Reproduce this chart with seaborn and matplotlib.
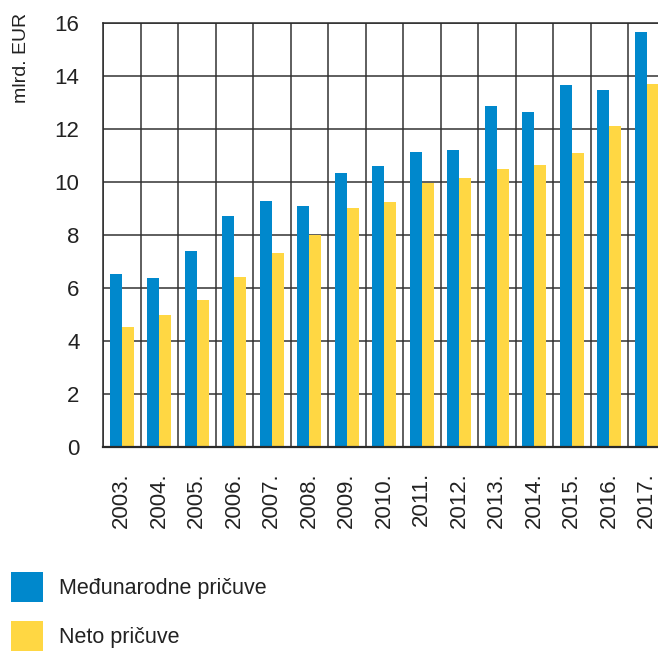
import numpy as np
import pandas as pd
import matplotlib.pyplot as plt
import seaborn as sns

# Data (mlrd. EUR)
years = ['2003.', '2004.', '2005.', '2006.', '2007.', '2008.', '2009.', '2010.',
         '2011.', '2012.', '2013.', '2014.', '2015.', '2016.', '2017.']
medjunarodne = [6.53, 6.39, 7.41, 8.70, 9.27, 9.09, 10.35, 10.61,
                11.15, 11.20, 12.86, 12.64, 13.66, 13.48, 15.67]
neto = [4.51, 4.99, 5.56, 6.43, 7.32, 8.00, 9.01, 9.25,
        9.97, 10.15, 10.50, 10.64, 11.10, 12.10, 13.68]
series_names = ['Međunarodne pričuve', 'Neto pričuve']
colors = ['#0088cc', '#ffd743']

df = pd.DataFrame({
    'godina': years * 2,
    'vrijednost': medjunarodne + neto,
    'serija': [series_names[0]] * len(years) + [series_names[1]] * len(years),
})

sns.set_style('white')
plt.rcParams['font.family'] = ['Liberation Sans', 'DejaVu Sans']

fig = plt.figure(figsize=(6.58, 6.54), dpi=100)
# axes run slightly past the right edge, like the cropped original
ax = fig.add_axes([103 / 658, 1 - 447 / 654, 562.5 / 658, 424 / 654])

sns.barplot(data=df, x='godina', y='vrijednost', hue='serija',
            palette=colors, width=0.64, gap=0, linewidth=0,
            saturation=1, ax=ax, legend=True)

ax.set_xlim(-0.5, len(years) - 0.5)
ax.set_ylim(0, 16)
ax.set_yticks(np.arange(0, 17, 2))
ax.set_xticks(np.arange(-0.5, len(years), 1), minor=True)

ax.set_axisbelow(True)
ax.grid(axis='y', which='major', color='#333333', linewidth=1.1)
ax.grid(axis='x', which='minor', color='#333333', linewidth=1.1)
ax.grid(axis='x', which='major', visible=False)

for side in ['left', 'top', 'bottom']:
    ax.spines[side].set_visible(True)
    ax.spines[side].set_color('#2a2a2a')
    ax.spines[side].set_linewidth(1.1)
ax.spines['bottom'].set_linewidth(1.6)
ax.spines['right'].set_visible(False)

ax.tick_params(axis='y', length=0, pad=17, labelsize=16, labelcolor='#222222')
ax.tick_params(axis='x', which='both', length=0, pad=18, labelsize=16,
               labelcolor='#222222')
for lab in ax.get_xticklabels():
    lab.set_rotation(90)
    lab.set_va('top')
    lab.set_ha('center')

ax.set_xlabel('')
ax.set_ylabel('')
fig.text(22 / 658, 1 - 13 / 654, 'mlrd. EUR', rotation=90, ha='center', va='top',
         fontsize=14, color='#222222')

handles, labels = ax.get_legend_handles_labels()
ax.get_legend().remove()
leg = fig.legend(handles, labels, loc='upper left',
                 bbox_to_anchor=(11 / 658, 1 - 572 / 654),
                 frameon=False, borderpad=0, borderaxespad=0,
                 handlelength=1.48, handleheight=1.78, handletextpad=0.75,
                 labelspacing=0.88, prop={'size': 15.5})
for t in leg.get_texts():
    t.set_color('#222222')

fig.savefig('out.png', dpi=100)
